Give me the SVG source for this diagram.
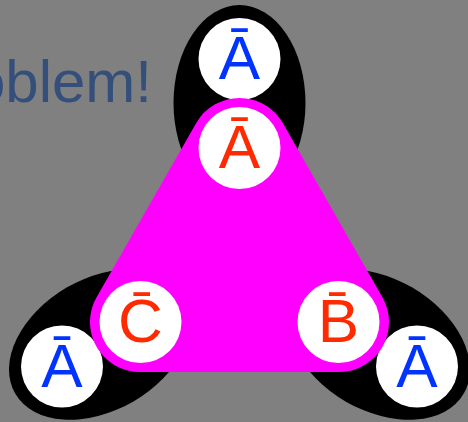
<svg xmlns="http://www.w3.org/2000/svg" width="468" height="422" viewBox="0 0 468 422">
<style>
.lbl{font-family:"Liberation Sans",Arial,sans-serif;font-size:62px;text-anchor:middle}
.blue{fill:#0033ff}
.red{fill:#ff2a00}
.disc{fill:#ffffff}
.lobe{fill:#000000}
</style>
<rect width="468" height="422" fill="#808080"/>
<text x="152" y="102" font-family="Liberation Sans, Arial, sans-serif" font-size="60" fill="#34507a" text-anchor="end">Problem!</text>
<g id="lobes">
<ellipse class="lobe" cx="239.5" cy="103" rx="66" ry="98"/>
<ellipse class="lobe" cx="239.5" cy="103" rx="66" ry="98" transform="rotate(-120 239.5 264)"/>
<ellipse class="lobe" cx="239.5" cy="103" rx="66" ry="98" transform="rotate(120 239.5 264)"/>
</g>
<g id="outer-top"><circle class="disc" cx="239.5" cy="59" r="41"/><text class="lbl blue" x="239.5" y="79">Ā</text></g>
<g id="outer-left"><circle class="disc" cx="62" cy="366.5" r="41"/><text class="lbl blue" x="62" y="386.5">Ā</text></g>
<g id="outer-right"><circle class="disc" cx="417" cy="366.5" r="41"/><text class="lbl blue" x="417" y="386.5">Ā</text></g>
<g id="connectors"></g>
<g id="triangle">
<polygon points="239.5,148 140,322 339,322" fill="#ff00ff" stroke="#ff00ff" stroke-width="100" stroke-linejoin="round"/>
</g>
<g id="inner-a"><circle class="disc" cx="239.5" cy="148" r="41"/><text class="lbl red" x="239.5" y="168">Ā</text></g>
<g id="inner-c"><circle class="disc" cx="140.5" cy="322" r="41"/><text class="lbl red" x="140.5" y="342">C̄</text></g>
<g id="inner-b"><circle class="disc" cx="338.5" cy="322" r="41"/><text class="lbl red" x="338.5" y="342">B̄</text></g>
</svg>
